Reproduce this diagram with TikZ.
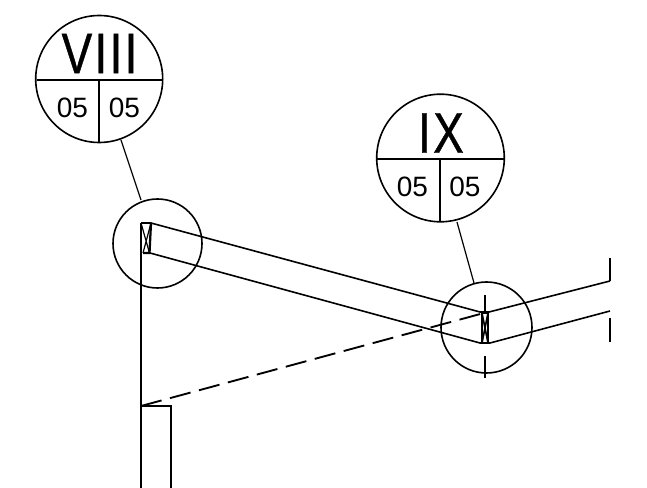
\documentclass[tikz,border=0pt]{standalone}
\usepackage{fontspec}
\setmainfont{Liberation Sans}
\tikzset{
  ink/.style={line width=1.2pt,black},
  thin ink/.style={line width=0.9pt,black},
  heavy ink/.style={line width=1.7pt,black},
  dashline/.style={line width=1.4pt,black,dash pattern=on 16pt off 6.5pt},
  roman/.style={inner sep=0pt,font=\fontsize{43}{43}\selectfont\addfontfeature{FakeStretch=0.8,FakeBold=0.7,LetterSpace=4}},
  num/.style={inner sep=0pt,font=\fontsize{21}{22}\selectfont}
}
\begin{document}
\begin{tikzpicture}[x=0.75pt,y=-0.75pt]
\useasboundingbox (0,0) rectangle (647,488);
\fill[white] (0,0) rectangle (647,488);
% bubble VIII
\coordinate (c1) at (99.2,79);
\draw[ink] (c1) circle[radius=63.5];
\coordinate (h1l) at (36.5,80); \coordinate (h1r) at (162,80);
\draw[ink] (h1l) -- (h1r);
\coordinate (v1t) at (99,80); \coordinate (v1b) at (99,142.5);
\draw[thin ink] (v1t) -- (v1b);
\node[roman] (t8) at (99.5,53.5) {VIII};
\node[num] (n1) at (72.5,108) {05};
\node[num] (n2) at (124.5,108) {05};
% bubble IX
\coordinate (c2) at (440.5,158);
\draw[ink] (c2) circle[radius=63.8];
\coordinate (h2l) at (377,159); \coordinate (h2r) at (504,159);
\draw[ink] (h2l) -- (h2r);
\coordinate (v2t) at (440,159); \coordinate (v2b) at (440,221.5);
\draw[ink] (v2t) -- (v2b);
\node[roman] (t9) at (441,133) {IX};
\node[num] (n3) at (412.5,187) {05};
\node[num] (n4) at (465,187) {05};
% detail circles and leaders
\coordinate (d1) at (157.5,243.5);
\draw[ink] (d1) circle[radius=44.5];
\coordinate (l1a) at (121,140); \coordinate (l1b) at (141,200);
\draw[thin ink] (l1a) -- (l1b);
\coordinate (d2) at (486.5,327.5);
\draw[ink] (d2) circle[radius=45.5];
\coordinate (l2a) at (457,222); \coordinate (l2b) at (474,283);
\draw[thin ink] (l2a) -- (l2b);
% beam
\coordinate (a1) at (141,223); \coordinate (a2) at (151,223); \coordinate (a3) at (150,253);
\coordinate (b1) at (480,312); \coordinate (b2) at (489,312); \coordinate (b3) at (480,343); \coordinate (b4) at (490,343);
\coordinate (e1) at (610,281); \coordinate (e2) at (610,311);
\draw[ink] (a2) -- (b1) -- (b2) -- (e1);
\draw[ink] (a3) -- (b3) -- (b4) -- (e2);
\coordinate (e1a) at (610,258); \coordinate (e2a) at (610,318); \coordinate (e2b) at (610,342);
\draw[ink] (e1a) -- (e1);
\draw[ink] (e2a) -- (e2b);
% end blocks
\coordinate (a4) at (149.5,253); \coordinate (a5) at (143,253);
\draw[ink] (a1) -- (a2);
\draw[heavy ink] (a2) -- (a4) -- (a5);
\draw[thin ink] (a1) -- (a4) (a2) -- (a5);
\coordinate (m1) at (482,313); \coordinate (m2) at (488,313); \coordinate (m3) at (488,343); \coordinate (m4) at (482,343);
\draw[heavy ink] (m1) -- (m2) -- (m3) -- (m4) -- cycle;
\draw[ink] (m1) -- (m3) (m2) -- (m4);
% centre ticks
\coordinate (t1) at (485,295); \coordinate (t2) at (485,313);
\coordinate (t3) at (485,356); \coordinate (t4) at (485,378);
\draw[thin ink] (t1) -- (t2) (t3) -- (t4);
% column
\coordinate (k1) at (141,223); \coordinate (k2) at (141,406); \coordinate (k3) at (141,488);
\draw[thin ink] (k1) -- (k2);
\draw[heavy ink] (k2) -- (k3);
\coordinate (p1) at (141,406); \coordinate (p2) at (171,406); \coordinate (p3) at (171,488);
\draw[ink] (p1) -- (p2) -- (p3);
% dashed brace
\coordinate (s1) at (141,406); \coordinate (s2) at (484,313);
\draw[dashline] (s1) -- (s2);
\end{tikzpicture}
\end{document}
